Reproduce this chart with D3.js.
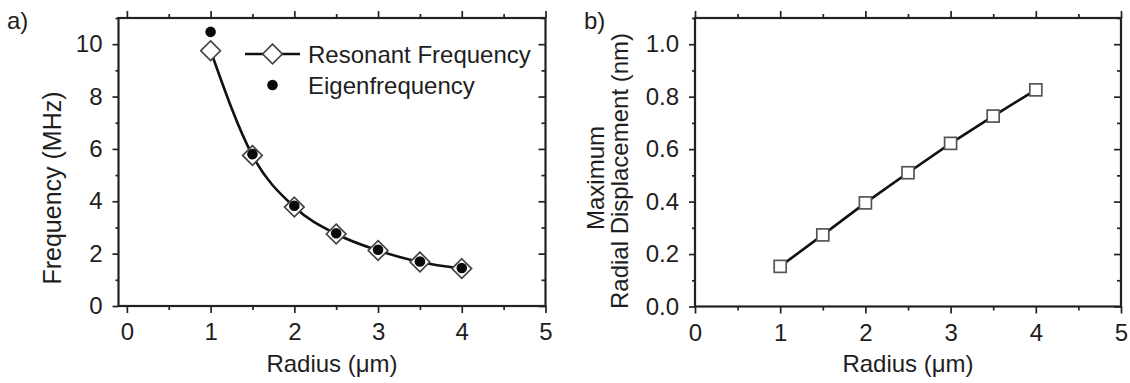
<!DOCTYPE html>
<html>
<head>
<meta charset="utf-8">
<script src="https://cdn.jsdelivr.net/npm/d3@7"></script>
<style>
  html, body { margin: 0; padding: 0; background: #fff; }
  svg { display: block; }
  text { font-family: "Liberation Sans", Arial, sans-serif; fill: #1e1e1e; }
</style>
</head>
<body>
<svg id="chart" width="1130" height="383"></svg>
<script>
// ---- data ----
const radius = [1, 1.5, 2, 2.5, 3, 3.5, 4];
const resonantFreq = [9.75, 5.75, 3.78, 2.75, 2.12, 1.68, 1.43];
const eigenFreq = [10.47, 5.80, 3.83, 2.78, 2.15, 1.70, 1.45];
const displacement = [0.153, 0.273, 0.395, 0.51, 0.622, 0.726, 0.826];

const xTicks = [0, 1, 2, 3, 4, 5];
const xMinor = [0.5, 1.5, 2.5, 3.5, 4.5];
const yTicksA = [0, 2, 4, 6, 8, 10];
const yMinorA = [1, 3, 5, 7, 9, 11];
const yTicksB = [0, 0.2, 0.4, 0.6, 0.8, 1.0];
const yMinorB = [0.1, 0.3, 0.5, 0.7, 0.9, 1.1];
const legendLabels = ["Resonant Frequency", "Eigenfrequency"];

const svg = d3.select("#chart");
const axisColor = "#222";
const fs = 24;

function frame(g, x, y, opts) {
  const [x0, x1] = x.range();
  const [y0, y1] = y.range();
  const ax = [
    { a: d3.axisBottom(x).tickValues(opts.xt).tickSize(7).tickPadding(10).tickFormat(d3.format("d")), t: `translate(0,${y0})` },
    { a: d3.axisBottom(x).tickValues(opts.xm).tickSize(4).tickFormat(""), t: `translate(0,${y0})` },
    { a: d3.axisBottom(x).tickValues(opts.xt).tickSize(-7).tickFormat(""), t: `translate(0,${y1})` },
    { a: d3.axisBottom(x).tickValues(opts.xm).tickSize(-4).tickFormat(""), t: `translate(0,${y1})` },
    { a: d3.axisLeft(y).tickValues(opts.yt).tickSize(6).tickPadding(10).tickFormat(opts.yf), t: `translate(${x0},0)` },
    { a: d3.axisLeft(y).tickValues(opts.ym.filter(v => y(v) >= y1 - 0.5)).tickSize(3).tickFormat(""), t: `translate(${x0},0)` },
    { a: d3.axisRight(y).tickValues(opts.yt).tickSize(-7).tickFormat(""), t: `translate(${x1},0)` },
    { a: d3.axisRight(y).tickValues(opts.ym.filter(v => y(v) >= y1 - 0.5)).tickSize(-4).tickFormat(""), t: `translate(${x1},0)` },
  ];
  ax.forEach(o => {
    const s = g.append("g").attr("transform", o.t).call(o.a.tickSizeOuter(0));
    s.select(".domain").remove();
    s.selectAll("line").attr("stroke", axisColor).attr("stroke-width", 1.7);
    s.selectAll("text").attr("font-size", fs).attr("font-family", "Liberation Sans, Arial, sans-serif").attr("fill", "#1e1e1e");
  });
  g.append("rect")
    .attr("x", x0).attr("y", y1)
    .attr("width", x1 - x0).attr("height", y0 - y1)
    .attr("fill", "none").attr("stroke", axisColor).attr("stroke-width", 2.2);
}

// ---------------- Panel a ----------------
const xa = d3.scaleLinear().domain([-0.1, 5]).range([118.5, 545.5]);
const ya = d3.scaleLinear().domain([0, 11]).range([306, 18]);
const ga = svg.append("g");
frame(ga, xa, ya, { xt: xTicks, xm: xMinor, yt: yTicksA, ym: yMinorA, yf: d3.format("d") });

const ptsA = radius.map((r, i) => ({ x: r, res: resonantFreq[i], eig: eigenFreq[i] }));
const lineA = d3.line().x(d => xa(d.x)).y(d => ya(d.res)).curve(d3.curveMonotoneX);
ga.append("path").datum(ptsA).attr("d", lineA)
  .attr("fill", "none").attr("stroke", "#111").attr("stroke-width", 2.6);

const diamond = d3.symbol().type(d3.symbolDiamond2).size(245);
ga.selectAll("path.dia").data(ptsA).join("path").attr("class", "dia")
  .attr("transform", d => `translate(${xa(d.x)},${ya(d.res)})`)
  .attr("d", diamond)
  .attr("fill", "#fff").attr("stroke", "#444").attr("stroke-width", 1.7);
ga.selectAll("circle.eig").data(ptsA).join("circle").attr("class", "eig")
  .attr("cx", d => xa(d.x)).attr("cy", d => ya(d.eig)).attr("r", 5.3)
  .attr("fill", "#0a0a0a");

// legend
const lg = ga.append("g");
lg.append("line").attr("x1", 245).attr("x2", 300).attr("y1", 54).attr("y2", 54)
  .attr("stroke", "#111").attr("stroke-width", 2.6);
lg.append("path").attr("transform", "translate(272.5,54)").attr("d", diamond)
  .attr("fill", "#fff").attr("stroke", "#444").attr("stroke-width", 1.7);
lg.append("text").attr("x", 308).attr("y", 63).attr("font-size", fs).text(legendLabels[0]);
lg.append("circle").attr("cx", 272.5).attr("cy", 85).attr("r", 5.3).attr("fill", "#0a0a0a");
lg.append("text").attr("x", 308).attr("y", 94).attr("font-size", fs).text(legendLabels[1]);

// titles
svg.append("text").attr("x", 7).attr("y", 29).attr("font-size", fs).text("a)");
svg.append("text").attr("transform", "translate(61,188) rotate(-90)")
  .attr("text-anchor", "middle").attr("font-size", fs + 1).text("Frequency (MHz)");
svg.append("text").attr("x", 332).attr("y", 372)
  .attr("text-anchor", "middle").attr("font-size", fs).text("Radius (\u03bcm)");

// ---------------- Panel b ----------------
const xb = d3.scaleLinear().domain([0, 5]).range([695, 1121]);
const yb = d3.scaleLinear().domain([0, 1.1]).range([306.5, 18]);
const gb = svg.append("g");
frame(gb, xb, yb, { xt: xTicks, xm: xMinor, yt: yTicksB, ym: yMinorB, yf: d3.format(".1f") });

const ptsB = radius.map((r, i) => ({ x: r, y: displacement[i] }));
gb.append("path").datum(ptsB)
  .attr("d", d3.line().x(d => xb(d.x)).y(d => yb(d.y)))
  .attr("fill", "none").attr("stroke", "#111").attr("stroke-width", 2.6);
const sq = 12;
gb.selectAll("rect.sq").data(ptsB).join("rect").attr("class", "sq")
  .attr("x", d => xb(d.x) - sq / 2).attr("y", d => yb(d.y) - sq / 2)
  .attr("width", sq).attr("height", sq)
  .attr("fill", "#fff").attr("stroke", "#555").attr("stroke-width", 1.7);

svg.append("text").attr("x", 584).attr("y", 29).attr("font-size", fs).text("b)");
svg.append("text").attr("transform", "translate(604,178) rotate(-90)")
  .attr("text-anchor", "middle").attr("font-size", fs).text("Maximum");
svg.append("text").attr("transform", "translate(628,171) rotate(-90)")
  .attr("text-anchor", "middle").attr("font-size", fs).text("Radial Displacement (nm)");
svg.append("text").attr("x", 908).attr("y", 372)
  .attr("text-anchor", "middle").attr("font-size", fs).text("Radius (\u03bcm)");
</script>
</body>
</html>
